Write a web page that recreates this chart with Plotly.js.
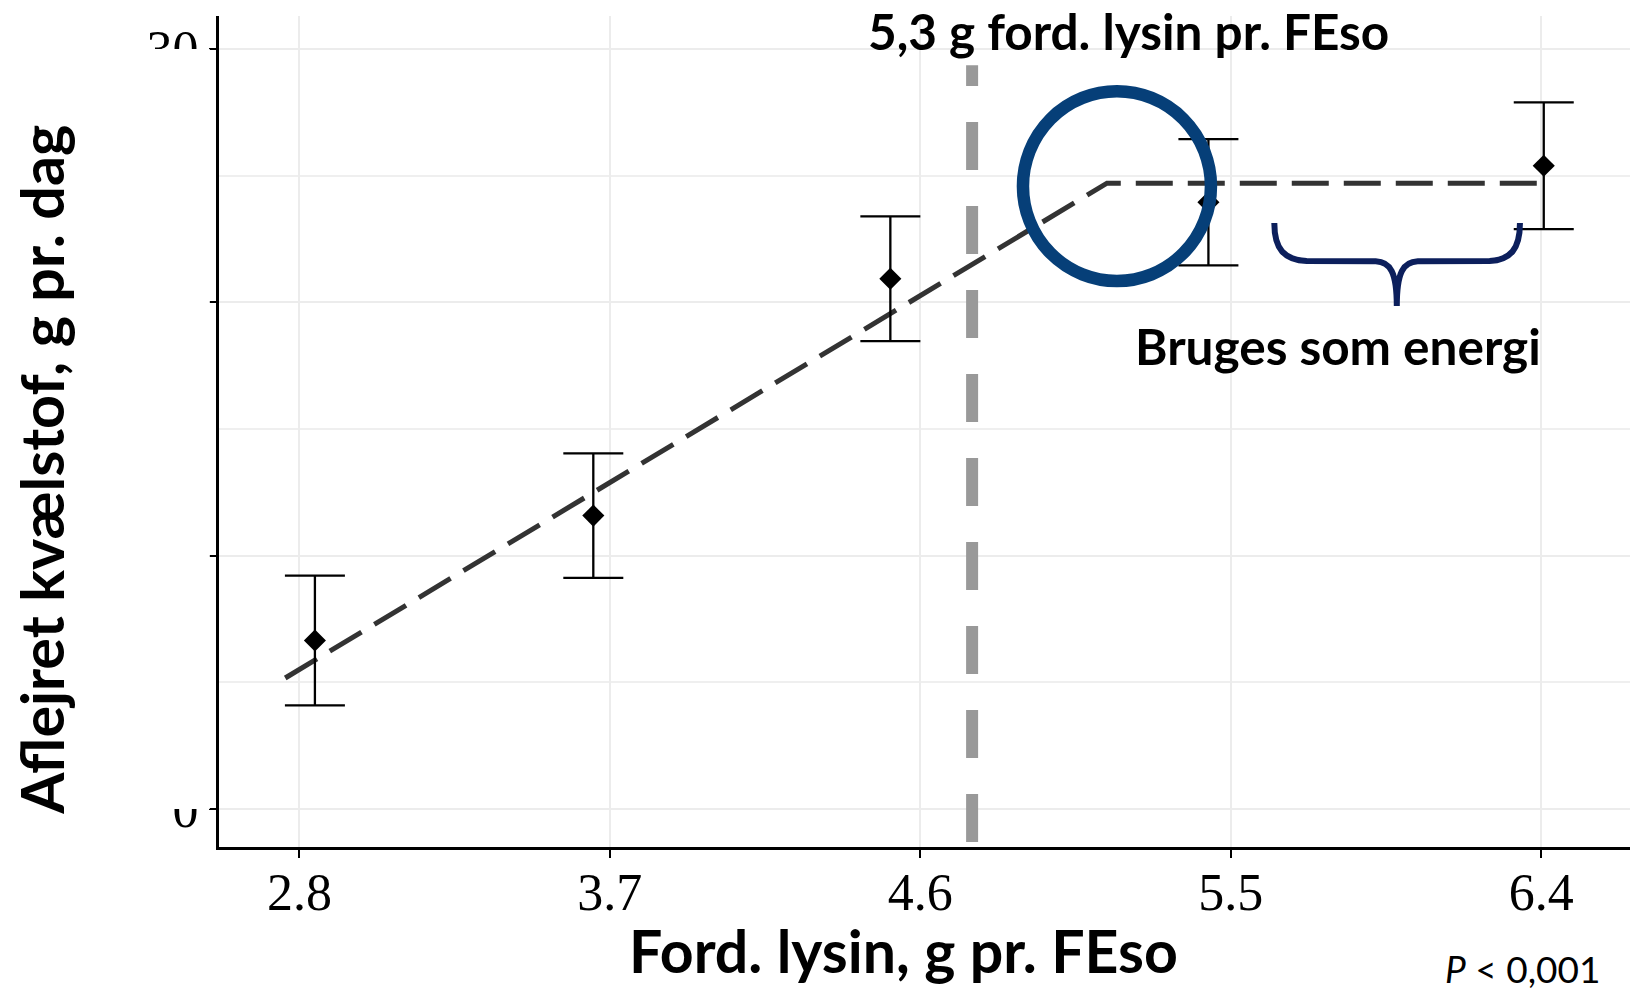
<!DOCTYPE html>
<html>
<head>
<meta charset="utf-8">
<script src="https://cdn.plot.ly/plotly-3.0.1.min.js"></script>
<style>
  html, body { margin: 0; padding: 0; background: #ffffff; }
  #chart { width: 1630px; height: 992px; }
</style>
</head>
<body>
<div id="chart"></div>
<script>
// ---- data ----
const xTickValues = [2.8, 3.7, 4.6, 5.5, 6.4];
const xTickLabels = ['2.8', '3.7', '4.6', '5.5', '6.4'];
const yTickValues = [0, 10, 20, 30];
const yTickLabels = ['0', '10', '20', '30'];

// observed means (deposited nitrogen, g/day) with error bars
const lysinObserved = [2.845, 3.652, 4.513, 5.435, 6.407];
const nitrogenMean = [6.65, 11.58, 20.93, 23.95, 25.39];
const nitrogenError = [2.56, 2.46, 2.46, 2.49, 2.50];

// broken-line (linear plateau) fit
const fitLysin = [2.759, 5.141, 6.40];
const fitNitrogen = [5.17, 24.70, 24.70];

// vertical reference line
const thresholdLysin = 4.75;

const txtTop = '5,3 g ford. lysin pr. FEso';
const txtEnergy = 'Bruges som energi';
const txtX = 'Ford. lysin, g pr. FEso';
const txtY = 'Aflejret kvælstof, g pr. dag';
const txtP = '<i>P</i> < 0,001';

const boldFont = 'Lato, "Open Sans", sans-serif';
const serifFont = '"Liberation Serif", "DejaVu Serif", serif';

const traces = [
  {
    type: 'scatter',
    mode: 'lines',
    x: fitLysin,
    y: fitNitrogen,
    line: { color: '#333333', width: 5, dash: '37px,15px' },
    hoverinfo: 'skip',
    showlegend: false
  },
  {
    type: 'scatter',
    mode: 'markers',
    x: lysinObserved,
    y: nitrogenMean,
    marker: { symbol: 'diamond', size: 17, color: '#000000' },
    error_y: {
      type: 'data',
      array: nitrogenError,
      visible: true,
      color: '#000000',
      thickness: 2.3,
      width: 30
    },
    showlegend: false
  }
];

const layout = {
  width: 1630,
  height: 992,
  margin: { l: 219, r: 0, t: 16, b: 145, pad: 0 },
  paper_bgcolor: '#ffffff',
  plot_bgcolor: '#ffffff',
  showlegend: false,
  xaxis: {
    range: [2.567, 6.657],
    tickmode: 'array',
    tickvals: xTickValues,
    ticktext: xTickLabels,
    ticks: 'outside',
    ticklen: 8,
    tickwidth: 2,
    tickcolor: '#000000',
    ticklabelstandoff: -10,
    showline: true,
    linecolor: '#000000',
    linewidth: 3,
    showgrid: true,
    gridcolor: '#ececec',
    gridwidth: 2,
    zeroline: false,
    tickfont: { family: serifFont, size: 52, color: '#000000' }
  },
  yaxis: {
    range: [-1.5, 31.3],
    tickmode: 'array',
    tickvals: yTickValues,
    ticktext: yTickLabels,
    ticks: 'outside',
    ticklen: 7,
    tickwidth: 2,
    tickcolor: '#000000',
    showline: true,
    linecolor: '#000000',
    linewidth: 3,
    showgrid: true,
    gridcolor: '#ececec',
    gridwidth: 2,
    zeroline: false,
    minor: { tick0: 0, dtick: 5, showgrid: true, gridcolor: '#efefef', gridwidth: 2, ticks: '' },
    tickfont: { family: serifFont, size: 52, color: '#000000' }
  },
  shapes: [
    // vertical grey dashed reference line
    {
      type: 'line', layer: 'between',
      xref: 'x', yref: 'y',
      x0: thresholdLysin, x1: thresholdLysin, y0: -1.30, y1: 29.36,
      line: { color: '#999999', width: 12, dash: '48px,36px' }
    },
    // circle round the break point
    {
      type: 'circle', layer: 'above',
      xref: 'x', yref: 'y',
      x0: 4.8974, x1: 5.4423, y0: 20.84, y1: 28.33,
      line: { color: '#063f78', width: 12.5 }
    },
    // curly brace
    {
      type: 'path', layer: 'above',
      xref: 'x', yref: 'y',
      path: 'M 5.626,23.13 C 5.626,22.1 5.655,21.66 5.72,21.63 L 5.92,21.62 C 5.962,21.6 5.981,21.2 5.981,19.85 ' +
            'C 5.981,21.2 6.0,21.6 6.042,21.62 L 6.25,21.63 C 6.31,21.66 6.338,22.1 6.338,23.13',
      line: { color: '#0c1f5c', width: 6 }
    },
    // white cover over the y tick label column (as in the reference)
    {
      type: 'rect', layer: 'above',
      xref: 'paper', yref: 'y',
      x0: -0.075, x1: -0.0065, y0: 0, y1: 30,
      fillcolor: '#ffffff',
      line: { width: 0 }
    }
  ],
  annotations: [
    {
      text: txtTop, xref: 'paper', yref: 'paper',
      x: 0.6449, y: 0.9815, xanchor: 'center', yanchor: 'middle',
      showarrow: false,
      font: { family: boldFont, size: 49.5, weight: 700, color: '#000000' }
    },
    {
      text: txtEnergy, xref: 'paper', yref: 'paper',
      x: 0.7931, y: 0.6024, xanchor: 'center', yanchor: 'middle',
      showarrow: false,
      font: { family: boldFont, size: 49.5, weight: 700, color: '#000000' }
    },
    {
      text: txtX, xref: 'paper', yref: 'paper',
      x: 0.4848, y: -0.1250, xanchor: 'center', yanchor: 'middle',
      showarrow: false,
      font: { family: boldFont, size: 59, weight: 700, color: '#000000' }
    },
    {
      text: txtY, xref: 'paper', yref: 'paper',
      x: -0.1264, y: 0.4535, xanchor: 'center', yanchor: 'middle',
      textangle: -90,
      showarrow: false,
      font: { family: boldFont, size: 59.3, weight: 700, color: '#000000' }
    },
    {
      text: txtP, xref: 'paper', yref: 'paper',
      x: 0.8675, y: -0.1465, xanchor: 'left', yanchor: 'middle',
      showarrow: false,
      font: { family: boldFont, size: 37, color: '#000000' }
    }
  ]
};

Plotly.newPlot('chart', traces, layout, { displayModeBar: false, responsive: false });
</script>
</body>
</html>
